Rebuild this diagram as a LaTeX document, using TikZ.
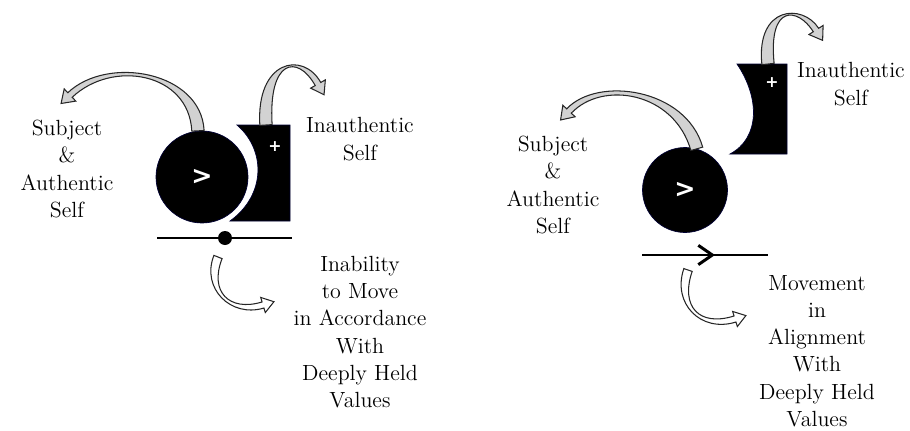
\documentclass[tikz,border=0pt]{standalone}
\usepackage{fontspec}
\newfontfamily\markfont{DejaVu Sans}
\usetikzlibrary{arrows.meta,calc}

% tapered block arrow: style, tail, ctrl1, ctrl2, head base, tail/end half widths, head half width, head length
\newcommand\bandarrow[9]{%
  \filldraw[#1]
    ($(#2)!#6!90:(#3)$)
    .. controls ($(#3)+($(#2)!#6!90:(#3)$)-(#2)$) and ($(#4)+($(#5)!#7!-90:(#4)$)-(#5)$) ..
    ($(#5)!#7!-90:(#4)$) -- ($(#5)!#8!-90:(#4)$) -- ($(#5)!-#9!(#4)$) --
    ($(#5)!#8!90:(#4)$) -- ($(#5)!#7!90:(#4)$)
    .. controls ($(#4)+($(#5)!#7!90:(#4)$)-(#5)$) and ($(#3)+($(#2)!#6!-90:(#3)$)-(#2)$) ..
    ($(#2)!#6!-90:(#3)$) -- cycle;}

\begin{document}
\begin{tikzpicture}[
  x=0.02cm, y=-0.02cm,
  selfcirc/.style={circle, fill=black, draw=black!80!blue, line width=0.4pt, minimum size=#1, inner sep=0pt, text=white, font=\markfont\bfseries\Large},
  crescent/.style={fill=black, draw=black!80!blue, line width=0.4pt},
  signmark/.style={text=white, font=\markfont\bfseries\small, inner sep=0pt},
  bandgray/.style={fill=gray!35, draw=black!85, line width=0.6pt},
  bandwhite/.style={fill=white, draw=black!85, line width=0.6pt},
  caption/.style={align=center, font=\fontsize{12.5}{15.5}\selectfont, inner sep=0pt},
  pathline/.style={line width=1.7pt}
]
  \useasboundingbox (0,0) rectangle (910,430);

  % Left: blocked self
  \node[selfcirc=1.84cm] (cL) at (202,177) {>};
  \path[crescent] (237,125) coordinate (tL0) -- (290,125) -- (290,221) -- (230,221)
    .. controls (266,195) and (266,150) .. (237,125) -- cycle;
  \node[signmark] (pL) at (275,147) {+};
  \draw[pathline] (157,238) coordinate (lL) -- (292,238) coordinate (rL);
  \node[circle, fill=black, minimum size=0.28cm, inner sep=0pt] (dotL) at (225,238) {};

  \coordinate (tL) at (266,125);
  \coordinate (bL) at (218,257);
  \coordinate (aL1) at (195,72);  \coordinate (aL2) at (110,57);  \coordinate (aL3) at (70,95);
  \coordinate (iL1) at (262,60);  \coordinate (iL2) at (300,52);  \coordinate (iL3) at (318,84);
  \coordinate (mL1) at (205,290); \coordinate (mL2) at (230,315); \coordinate (mL3) at (263,305);

  \bandarrow{bandgray}{cL.95}{aL1}{aL2}{aL3}{3.5pt}{1.8pt}{4.8pt}{7pt}
  \bandarrow{bandgray}{tL}{iL1}{iL2}{iL3}{3.5pt}{1.8pt}{4.8pt}{7pt}
  \bandarrow{bandwhite}{bL}{mL1}{mL2}{mL3}{2.5pt}{1.8pt}{4.5pt}{6.5pt}

  \node[caption] (subjL) at (67,169) {Subject\\\&\\Authentic\\Self};
  \node[caption] (inauL) at (360,139) {Inauthentic\\Self};
  \node[caption] (inabL) at (360,332) {Inability\\to Move\\in Accordance\\With\\Deeply Held\\Values};

  % Right: aligned self
  \node[selfcirc=1.7cm] (cR) at (685,190) {>};
  \path[crescent] (737,64) -- (787,64) -- (787,154) -- (730,154)
    .. controls (760,138) and (760,98) .. (737,64) -- cycle;
  \node[signmark] (pR) at (772,83) {+};
  \draw[pathline] (642,255) coordinate (lR) -- (768,255) coordinate (rR);
  \coordinate (midR) at (715,255);
  \draw[pathline, -{Straight Barb[length=8pt, width=11pt]}] (lR) -- (midR);

  \coordinate (tR) at (768,64);
  \coordinate (bR) at (688,270);
  \coordinate (aR1) at (680,90);  \coordinate (aR2) at (600,78);  \coordinate (aR3) at (569,111);
  \coordinate (iR1) at (762,5);   \coordinate (iR2) at (800,5);   \coordinate (iR3) at (816,30);
  \coordinate (mR1) at (676,305); \coordinate (mR2) at (700,330); \coordinate (mR3) at (735,319);

  \bandarrow{bandgray}{cR.74}{aR1}{aR2}{aR3}{3.5pt}{1.8pt}{4.8pt}{7pt}
  \bandarrow{bandgray}{tR}{iR1}{iR2}{iR3}{3.5pt}{1.8pt}{4.8pt}{7pt}
  \bandarrow{bandwhite}{bR}{mR1}{mR2}{mR3}{2.5pt}{1.8pt}{4.5pt}{6.5pt}

  \node[caption] (subjR) at (553,185) {Subject\\\&\\Authentic\\Self};
  \node[caption] (inauR) at (851,84) {Inauthentic\\Self};
  \node[caption] (moveR) at (817,351) {Movement\\in\\Alignment\\With\\Deeply Held\\Values};
\end{tikzpicture}
\end{document}
